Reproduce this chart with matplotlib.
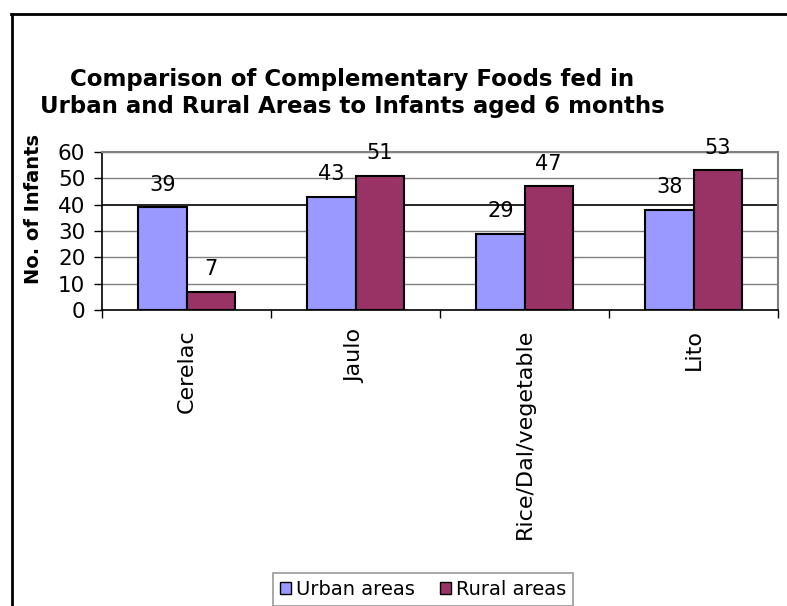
import matplotlib
matplotlib.use("Agg")
import matplotlib.pyplot as plt
from matplotlib.lines import Line2D
from matplotlib.patches import Patch
import numpy as np

categories = ["Cerelac", "Jaulo", "Rice/Dal/vegetable", "Lito"]
urban = [39, 43, 29, 38]
rural = [7, 51, 47, 53]
series_names = ["Urban areas", "Rural areas"]
yticks = [0, 10, 20, 30, 40, 50, 60]
title = "Comparison of Complementary Foods fed in\nUrban and Rural Areas to Infants aged 6 months"

W, H = 787, 606
fig = plt.figure(figsize=(W / 100, H / 100), dpi=100)
fig.patch.set_facecolor("white")

# outer chart frame
fig.add_artist(Line2D([11 / W, 1.0], [1 - 14 / H, 1 - 14 / H], transform=fig.transFigure,
                      color="black", lw=2))
fig.add_artist(Line2D([12 / W, 12 / W], [0, 1 - 14 / H], transform=fig.transFigure,
                      color="black", lw=2))

ax = fig.add_axes([102 / W, 1 - 310 / H, (778 - 102) / W, (310 - 152) / H])

x = np.arange(len(categories))
w = 1 / 3.5
c_urban = "#9999FF"
c_rural = "#993366"
b1 = ax.bar(x - w / 2, urban, w, color=c_urban, edgecolor="black", linewidth=1.5, zorder=3)
b2 = ax.bar(x + w / 2, rural, w, color=c_rural, edgecolor="black", linewidth=1.5, zorder=3)

for bars, vals in ((b1, urban), (b2, rural)):
    for r, v in zip(bars, vals):
        ax.annotate(str(v), (r.get_x() + r.get_width() / 2, v), xytext=(0, 9),
                    textcoords="offset points", ha="center", va="bottom",
                    fontsize=15, color="black", zorder=5, annotation_clip=False)

ax.set_xlim(-0.5, len(categories) - 0.5)
ax.set_ylim(0, 60)
ax.set_yticks(yticks)
ax.set_yticklabels([str(t) for t in yticks], fontsize=15.5)

# gridlines
for t in yticks[1:]:
    ax.axhline(t, color="black" if t == 40 else "#808080", lw=1.2 if t == 40 else 1.0, zorder=1)

# category labels at centers, ticks at boundaries
ax.set_xticks(np.arange(-0.5, len(categories), 1.0))
ax.set_xticklabels([])
ax.tick_params(axis="x", direction="out", length=6, width=1, color="black")
ax.tick_params(axis="y", direction="out", length=6, width=1, color="black", pad=6)
for i, c in enumerate(categories):
    ax.text(i, -0.12, c, transform=ax.get_xaxis_transform(), rotation=90,
            ha="center", va="top", fontsize=16)

for s in ("top", "right"):
    ax.spines[s].set_color("#808080")
    ax.spines[s].set_linewidth(1.5)
for s in ("left", "bottom"):
    ax.spines[s].set_color("black")
    ax.spines[s].set_linewidth(1.2)

ax.set_ylabel("No. of Infants", fontsize=14, fontweight="bold")
ax.yaxis.set_label_coords((43 - 102) / (778 - 102), 0.64)

fig.text(352 / W, 1 - 93 / H, title, ha="center", va="center", fontsize=16.5,
         fontweight="bold", linespacing=1.25)

handles = [Patch(facecolor=c_urban, edgecolor="black", lw=1.0),
           Patch(facecolor=c_rural, edgecolor="black", lw=1.0)]
leg = fig.legend(handles, series_names, loc="upper center",
                 bbox_to_anchor=(423 / W, 1 - 573 / H), ncol=2, fontsize=14,
                 frameon=True, fancybox=False, edgecolor="#808080",
                 handlelength=0.55, handleheight=0.55, handletextpad=0.25,
                 columnspacing=1.3, borderpad=0.35, borderaxespad=0)
leg.get_frame().set_linewidth(1.2)

fig.savefig("out.png", dpi=100)
